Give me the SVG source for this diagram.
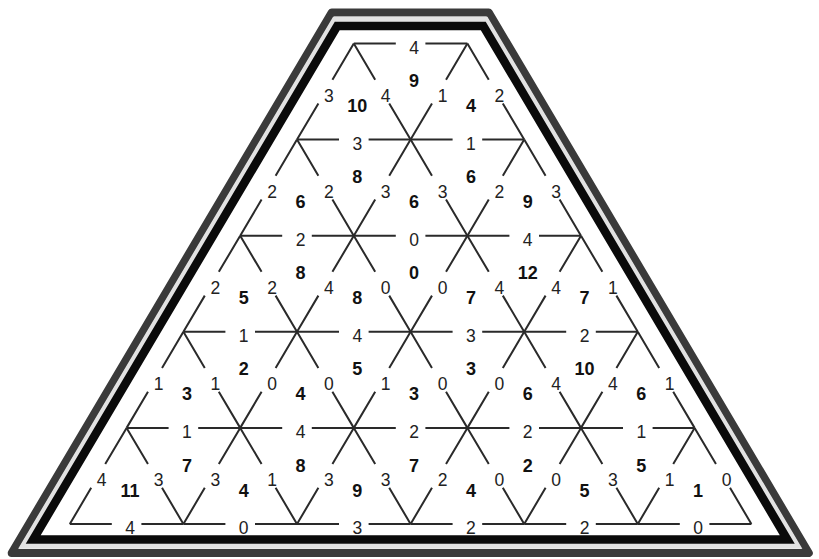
<svg xmlns="http://www.w3.org/2000/svg" width="819" height="559" viewBox="0 0 819 559">
<style>
.fo{fill:none;stroke:#3a3a3a;stroke-width:8;stroke-linejoin:round}
.fm{fill:none;stroke:#e2e2e2;stroke-width:5}
.fi{fill:none;stroke:#0a0a0a;stroke-width:8.5;stroke-linejoin:miter}
.h{stroke:#2a2a2a;stroke-width:2;stroke-dasharray:42 29.6}
.d{stroke:#2a2a2a;stroke-width:2;stroke-dasharray:42 27.6}
.e{font-family:"Liberation Sans",Arial,sans-serif;font-size:17.5px;fill:#222;text-anchor:middle}
.f{font-family:"Liberation Sans",Arial,sans-serif;font-size:18px;font-weight:bold;fill:#111;text-anchor:middle}
</style>
<rect width="819" height="559" fill="#fff"/>
<g id="frame">
<polygon class="fo" points="331.7,12.5 488.8,12.5 808.8,553 11.7,553"/>
<polygon class="fm" points="334.5,19.3 486,19.3 798,546.3 22.5,546.3"/>
<polygon class="fi" points="337.2,26 483.3,26 787.3,539.5 33.2,539.5"/>
</g>
<g id="connectors">
<line class="h" x1="353.8" y1="43.5" x2="467.4" y2="43.5"/>
<line class="h" x1="297" y1="139.6" x2="410.6" y2="139.6"/>
<line class="h" x1="410.6" y1="139.6" x2="524.2" y2="139.6"/>
<line class="h" x1="240.2" y1="235.7" x2="353.8" y2="235.7"/>
<line class="h" x1="353.8" y1="235.7" x2="467.4" y2="235.7"/>
<line class="h" x1="467.4" y1="235.7" x2="581" y2="235.7"/>
<line class="h" x1="183.4" y1="331.8" x2="297" y2="331.8"/>
<line class="h" x1="297" y1="331.8" x2="410.6" y2="331.8"/>
<line class="h" x1="410.6" y1="331.8" x2="524.2" y2="331.8"/>
<line class="h" x1="524.2" y1="331.8" x2="637.8" y2="331.8"/>
<line class="h" x1="126.6" y1="427.9" x2="240.2" y2="427.9"/>
<line class="h" x1="240.2" y1="427.9" x2="353.8" y2="427.9"/>
<line class="h" x1="353.8" y1="427.9" x2="467.4" y2="427.9"/>
<line class="h" x1="467.4" y1="427.9" x2="581" y2="427.9"/>
<line class="h" x1="581" y1="427.9" x2="694.6" y2="427.9"/>
<line class="h" x1="69.8" y1="524" x2="183.4" y2="524"/>
<line class="h" x1="183.4" y1="524" x2="297" y2="524"/>
<line class="h" x1="297" y1="524" x2="410.6" y2="524"/>
<line class="h" x1="410.6" y1="524" x2="524.2" y2="524"/>
<line class="h" x1="524.2" y1="524" x2="637.8" y2="524"/>
<line class="h" x1="637.8" y1="524" x2="751.4" y2="524"/>
<line class="d" x1="353.8" y1="43.5" x2="297" y2="139.6"/>
<line class="d" x1="353.8" y1="43.5" x2="410.6" y2="139.6"/>
<line class="d" x1="467.4" y1="43.5" x2="410.6" y2="139.6"/>
<line class="d" x1="467.4" y1="43.5" x2="524.2" y2="139.6"/>
<line class="d" x1="297" y1="139.6" x2="240.2" y2="235.7"/>
<line class="d" x1="297" y1="139.6" x2="353.8" y2="235.7"/>
<line class="d" x1="410.6" y1="139.6" x2="353.8" y2="235.7"/>
<line class="d" x1="410.6" y1="139.6" x2="467.4" y2="235.7"/>
<line class="d" x1="524.2" y1="139.6" x2="467.4" y2="235.7"/>
<line class="d" x1="524.2" y1="139.6" x2="581" y2="235.7"/>
<line class="d" x1="240.2" y1="235.7" x2="183.4" y2="331.8"/>
<line class="d" x1="240.2" y1="235.7" x2="297" y2="331.8"/>
<line class="d" x1="353.8" y1="235.7" x2="297" y2="331.8"/>
<line class="d" x1="353.8" y1="235.7" x2="410.6" y2="331.8"/>
<line class="d" x1="467.4" y1="235.7" x2="410.6" y2="331.8"/>
<line class="d" x1="467.4" y1="235.7" x2="524.2" y2="331.8"/>
<line class="d" x1="581" y1="235.7" x2="524.2" y2="331.8"/>
<line class="d" x1="581" y1="235.7" x2="637.8" y2="331.8"/>
<line class="d" x1="183.4" y1="331.8" x2="126.6" y2="427.9"/>
<line class="d" x1="183.4" y1="331.8" x2="240.2" y2="427.9"/>
<line class="d" x1="297" y1="331.8" x2="240.2" y2="427.9"/>
<line class="d" x1="297" y1="331.8" x2="353.8" y2="427.9"/>
<line class="d" x1="410.6" y1="331.8" x2="353.8" y2="427.9"/>
<line class="d" x1="410.6" y1="331.8" x2="467.4" y2="427.9"/>
<line class="d" x1="524.2" y1="331.8" x2="467.4" y2="427.9"/>
<line class="d" x1="524.2" y1="331.8" x2="581" y2="427.9"/>
<line class="d" x1="637.8" y1="331.8" x2="581" y2="427.9"/>
<line class="d" x1="637.8" y1="331.8" x2="694.6" y2="427.9"/>
<line class="d" x1="126.6" y1="427.9" x2="69.8" y2="524"/>
<line class="d" x1="126.6" y1="427.9" x2="183.4" y2="524"/>
<line class="d" x1="240.2" y1="427.9" x2="183.4" y2="524"/>
<line class="d" x1="240.2" y1="427.9" x2="297" y2="524"/>
<line class="d" x1="353.8" y1="427.9" x2="297" y2="524"/>
<line class="d" x1="353.8" y1="427.9" x2="410.6" y2="524"/>
<line class="d" x1="467.4" y1="427.9" x2="410.6" y2="524"/>
<line class="d" x1="467.4" y1="427.9" x2="524.2" y2="524"/>
<line class="d" x1="581" y1="427.9" x2="524.2" y2="524"/>
<line class="d" x1="581" y1="427.9" x2="637.8" y2="524"/>
<line class="d" x1="694.6" y1="427.9" x2="637.8" y2="524"/>
<line class="d" x1="694.6" y1="427.9" x2="751.4" y2="524"/>
</g>
<g id="edge-labels">
<text class="e" x="414.1" y="53.5">4</text>
<text class="e" x="357.3" y="149.6">3</text><text class="e" x="470.9" y="149.6">1</text>
<text class="e" x="300.5" y="245.7">2</text><text class="e" x="414.1" y="245.7">0</text><text class="e" x="527.7" y="245.7">4</text>
<text class="e" x="243.7" y="341.8">1</text><text class="e" x="357.3" y="341.8">4</text><text class="e" x="470.9" y="341.8">3</text><text class="e" x="584.5" y="341.8">2</text>
<text class="e" x="186.9" y="437.9">1</text><text class="e" x="300.5" y="437.9">4</text><text class="e" x="414.1" y="437.9">2</text><text class="e" x="527.7" y="437.9">2</text><text class="e" x="641.3" y="437.9">1</text>
<text class="e" x="130.1" y="534">4</text><text class="e" x="243.7" y="534">0</text><text class="e" x="357.3" y="534">3</text><text class="e" x="470.9" y="534">2</text><text class="e" x="584.5" y="534">2</text><text class="e" x="698.1" y="534">0</text>
<text class="e" x="328.9" y="101.5">3</text><text class="e" x="385.7" y="101.5">4</text><text class="e" x="442.5" y="101.5">1</text><text class="e" x="499.3" y="101.5">2</text>
<text class="e" x="272.1" y="197.7">2</text><text class="e" x="328.9" y="197.7">2</text><text class="e" x="385.7" y="197.7">3</text><text class="e" x="442.5" y="197.7">3</text><text class="e" x="499.3" y="197.7">2</text><text class="e" x="556.1" y="197.7">3</text>
<text class="e" x="215.3" y="293.8">2</text><text class="e" x="272.1" y="293.8">2</text><text class="e" x="328.9" y="293.8">4</text><text class="e" x="385.7" y="293.8">0</text><text class="e" x="442.5" y="293.8">0</text><text class="e" x="499.3" y="293.8">4</text><text class="e" x="556.1" y="293.8">4</text><text class="e" x="612.9" y="293.8">1</text>
<text class="e" x="158.5" y="389.9">1</text><text class="e" x="215.3" y="389.9">1</text><text class="e" x="272.1" y="389.9">0</text><text class="e" x="328.9" y="389.9">0</text><text class="e" x="385.7" y="389.9">1</text><text class="e" x="442.5" y="389.9">0</text><text class="e" x="499.3" y="389.9">0</text><text class="e" x="556.1" y="389.9">4</text><text class="e" x="612.9" y="389.9">4</text><text class="e" x="669.7" y="389.9">1</text>
<text class="e" x="101.7" y="486">4</text><text class="e" x="158.5" y="486">3</text><text class="e" x="215.3" y="486">3</text><text class="e" x="272.1" y="486">1</text><text class="e" x="328.9" y="486">3</text><text class="e" x="385.7" y="486">3</text><text class="e" x="442.5" y="486">2</text><text class="e" x="499.3" y="486">0</text><text class="e" x="556.1" y="486">0</text><text class="e" x="612.9" y="486">3</text><text class="e" x="669.7" y="486">1</text><text class="e" x="726.5" y="486">0</text>
</g>
<g id="face-labels">
<text class="f" x="357.3" y="112">10</text><text class="f" x="414.1" y="87">9</text><text class="f" x="470.9" y="112">4</text>
<text class="f" x="300.5" y="208.2">6</text><text class="f" x="357.3" y="183.2">8</text><text class="f" x="414.1" y="208.2">6</text><text class="f" x="470.9" y="183.2">6</text><text class="f" x="527.7" y="208.2">9</text>
<text class="f" x="243.7" y="304.3">5</text><text class="f" x="300.5" y="279.3">8</text><text class="f" x="357.3" y="304.3">8</text><text class="f" x="414.1" y="279.3">0</text><text class="f" x="470.9" y="304.3">7</text><text class="f" x="527.7" y="279.3">12</text><text class="f" x="584.5" y="304.3">7</text>
<text class="f" x="186.9" y="400.4">3</text><text class="f" x="243.7" y="375.4">2</text><text class="f" x="300.5" y="400.4">4</text><text class="f" x="357.3" y="375.4">5</text><text class="f" x="414.1" y="400.4">3</text><text class="f" x="470.9" y="375.4">3</text><text class="f" x="527.7" y="400.4">6</text><text class="f" x="584.5" y="375.4">10</text><text class="f" x="641.3" y="400.4">6</text>
<text class="f" x="130.1" y="496.5">11</text><text class="f" x="186.9" y="471.5">7</text><text class="f" x="243.7" y="496.5">4</text><text class="f" x="300.5" y="471.5">8</text><text class="f" x="357.3" y="496.5">9</text><text class="f" x="414.1" y="471.5">7</text><text class="f" x="470.9" y="496.5">4</text><text class="f" x="527.7" y="471.5">2</text><text class="f" x="584.5" y="496.5">5</text><text class="f" x="641.3" y="471.5">5</text><text class="f" x="698.1" y="496.5">1</text>
</g>
</svg>
